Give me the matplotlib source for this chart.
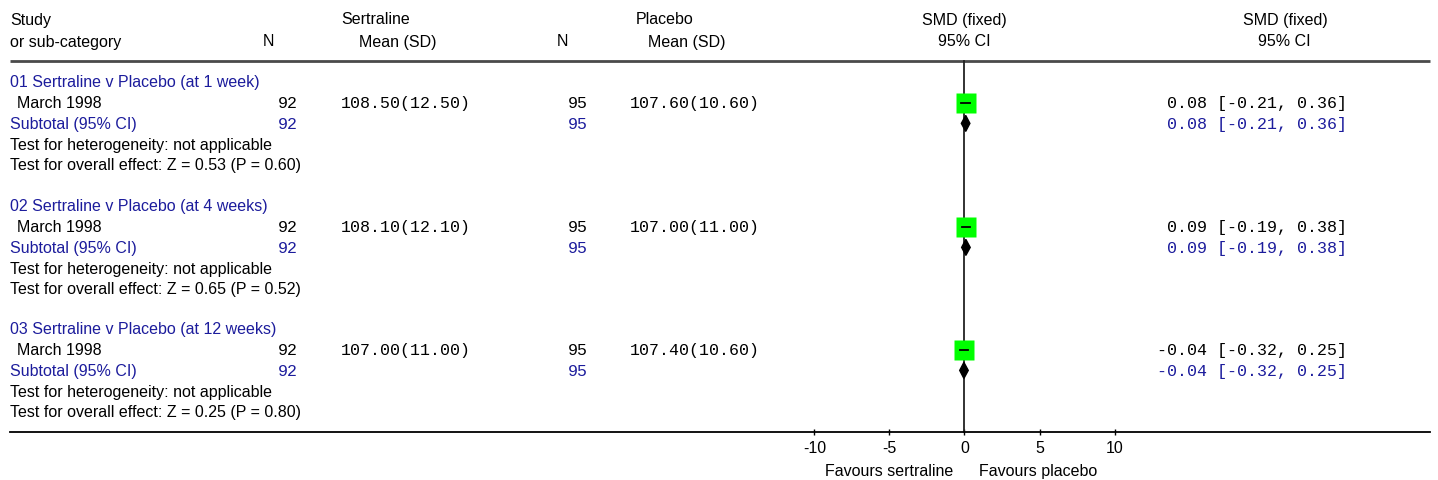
import matplotlib
matplotlib.use("Agg")
import matplotlib.pyplot as plt

# ---- data ----
groups = ["01 Sertraline v Placebo (at 1 week)",
          "02 Sertraline v Placebo (at 4 weeks)",
          "03 Sertraline v Placebo (at 12 weeks)"]
study = "March 1998"
sert_n = [92, 92, 92]
sert_mean = [108.50, 108.10, 107.00]
sert_sd = [12.50, 12.10, 11.00]
plac_n = [95, 95, 95]
plac_mean = [107.60, 107.00, 107.40]
plac_sd = [10.60, 11.00, 10.60]
smd = [0.08, 0.09, -0.04]
ci_lo = [-0.21, -0.19, -0.32]
ci_hi = [0.36, 0.38, 0.25]
z_val = [0.53, 0.65, 0.25]
p_val = [0.60, 0.52, 0.80]
xticks = [-10, -5, 0, 5, 10]

W, H = 1438, 481
blue = "#1c1c9c"
sans = "Liberation Sans"
mono = "Liberation Mono"
fs = 11.5
fm = 12

fig = plt.figure(figsize=(W / 100, H / 100), dpi=100)

# text layer in pixel coordinates
tax = fig.add_axes([0, 0, 1, 1])
tax.set_xlim(0, W)
tax.set_ylim(H, 0)
tax.axis("off")

# forest layer: x in SMD units, y in pixels
px_per_unit = 15.0
zero_px = 964.5
fax = fig.add_axes([0, 0, 1, 1], facecolor="none")
fax.set_xlim(-zero_px / px_per_unit, (W - zero_px) / px_per_unit)
fax.set_ylim(H, 0)
for s in ["top", "left", "right"]:
    fax.spines[s].set_visible(False)
fax.spines["bottom"].set_position(("data", 433))
fax.spines["bottom"].set_bounds((10 - zero_px) / px_per_unit, (1430 - zero_px) / px_per_unit)
fax.spines["bottom"].set_linewidth(1.3)
fax.set_yticks([])
fax.set_xticks(xticks)
fax.set_xticklabels([str(t) for t in xticks], fontfamily=sans, fontsize=fs)
fax.tick_params(axis="x", direction="inout", length=5, width=1, pad=3)

# headers
tax.text(10, 20, "Study", fontfamily=sans, fontsize=fs, va="center")
tax.text(10, 42, "or sub-category", fontfamily=sans, fontsize=fs, va="center")
tax.text(268, 42, "N", fontfamily=sans, fontsize=fs, va="center", ha="center")
tax.text(376, 20, "Sertraline", fontfamily=sans, fontsize=fs, va="center", ha="center")
tax.text(398, 42, "Mean (SD)", fontfamily=sans, fontsize=fs, va="center", ha="center")
tax.text(562, 42, "N", fontfamily=sans, fontsize=fs, va="center", ha="center")
tax.text(665, 20, "Placebo", fontfamily=sans, fontsize=fs, va="center", ha="center")
tax.text(687, 42, "Mean (SD)", fontfamily=sans, fontsize=fs, va="center", ha="center")
tax.text(964, 20, "SMD (fixed)", fontfamily=sans, fontsize=fs, va="center", ha="center")
tax.text(964, 42, "95% CI", fontfamily=sans, fontsize=fs, va="center", ha="center")
tax.text(1285, 20, "SMD (fixed)", fontfamily=sans, fontsize=fs, va="center", ha="center")
tax.text(1284, 42, "95% CI", fontfamily=sans, fontsize=fs, va="center", ha="center")
tax.plot([10, 1430], [62, 62], color="#4a4a4a", lw=2, solid_capstyle="butt")

# null line
fax.plot([0, 0], [62, 433], color="#222222", lw=1.3)

group_top = [83, 207, 330]
row_gap = 20.7
for i, g in enumerate(groups):
    y0 = group_top[i]
    y_study = y0 + row_gap
    y_sub = y0 + 2 * row_gap
    tax.text(10, y0, g, fontfamily=sans, fontsize=fs, va="center", color=blue)
    tax.text(17, y_study, study, fontfamily=sans, fontsize=fs, va="center")
    tax.text(298, y_study, str(sert_n[i]), fontfamily=mono, fontsize=fm, va="center", ha="right")
    tax.text(341, y_study, "%.2f(%.2f)" % (sert_mean[i], sert_sd[i]), fontfamily=mono, fontsize=fm, va="center")
    tax.text(588, y_study, str(plac_n[i]), fontfamily=mono, fontsize=fm, va="center", ha="right")
    tax.text(630, y_study, "%.2f(%.2f)" % (plac_mean[i], plac_sd[i]), fontfamily=mono, fontsize=fm, va="center")
    ci_txt = "%.2f [%.2f, %.2f]" % (smd[i], ci_lo[i], ci_hi[i])
    tax.text(1347, y_study, ci_txt, fontfamily=mono, fontsize=fm, va="center", ha="right")

    tax.text(10, y_sub, "Subtotal (95% CI)", fontfamily=sans, fontsize=fs, va="center", color=blue)
    tax.text(298, y_sub, str(sert_n[i]), fontfamily=mono, fontsize=fm, va="center", ha="right", color=blue)
    tax.text(588, y_sub, str(plac_n[i]), fontfamily=mono, fontsize=fm, va="center", ha="right", color=blue)
    tax.text(1347, y_sub, ci_txt, fontfamily=mono, fontsize=fm, va="center", ha="right", color=blue)
    tax.text(10, y0 + 3 * row_gap, "Test for heterogeneity: not applicable", fontfamily=sans, fontsize=fs, va="center")
    tax.text(10, y0 + 4 * row_gap, "Test for overall effect: Z = %.2f (P = %.2f)" % (z_val[i], p_val[i]),
             fontfamily=sans, fontsize=fs, va="center")

    # study square + CI
    fax.plot([smd[i]], [y_study], marker="s", markersize=13.7, color="#00ff00", mec="none", zorder=3)
    fax.plot([ci_lo[i], ci_hi[i]], [y_study, y_study], color="black", lw=1.3, zorder=4)
    # pooled diamond
    fax.fill([ci_lo[i], smd[i], ci_hi[i], smd[i]], [y_sub, y_sub - 8, y_sub, y_sub + 8],
             color="black", zorder=4)

tax.text(953, 472, "Favours sertraline", fontfamily=sans, fontsize=fs, va="center", ha="right")
tax.text(979, 472, "Favours placebo", fontfamily=sans, fontsize=fs, va="center", ha="left")

fig.savefig("out.png", dpi=100)
